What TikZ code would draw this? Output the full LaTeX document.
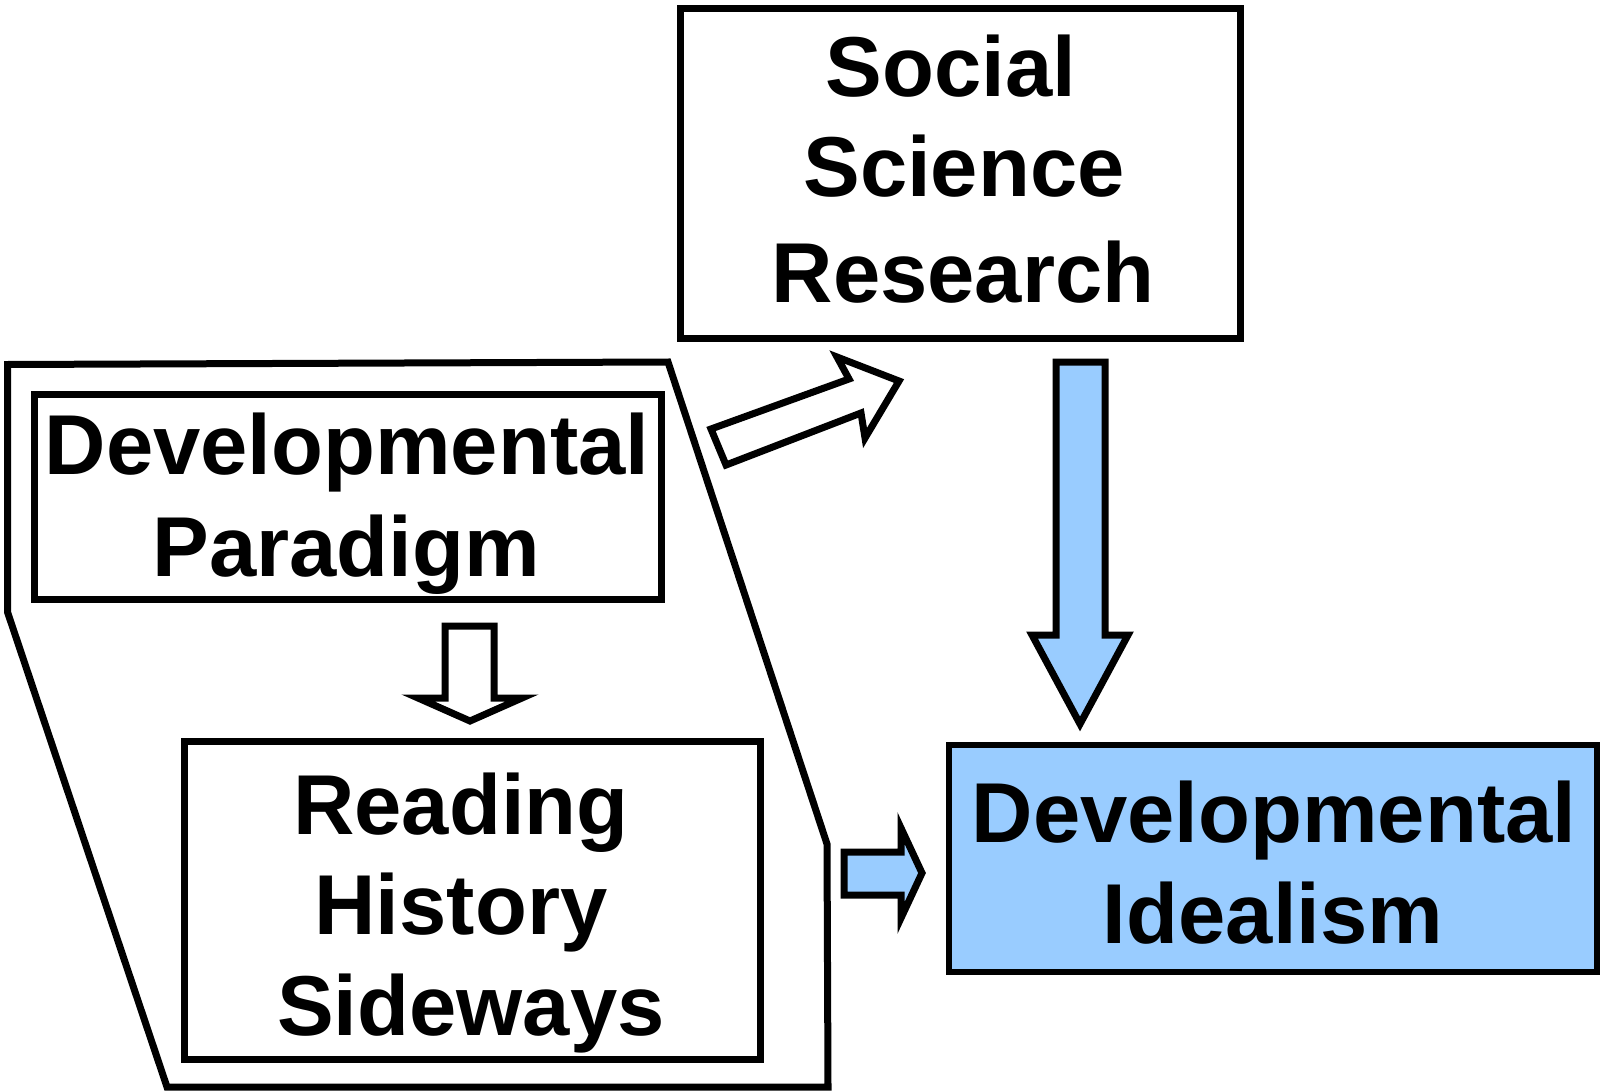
\documentclass[tikz,border=0pt]{standalone}
\usepackage{fontspec}
\setmainfont{Liberation Sans}
\definecolor{skyb}{HTML}{99CCFF}
\begin{document}
\begin{tikzpicture}[x=0.5pt,y=-0.5pt,
  box/.style={draw=black, line width=3.5pt, inner sep=0pt, rectangle},
  txt/.style={font=\fontsize{42.5}{50}\selectfont\bfseries, anchor=base, inner sep=0pt},
  outline/.style={draw=black, line width=3.5pt, line join=miter},
  harrow/.style={outline, fill=white},
  barrow/.style={outline, fill=skyb}]
\useasboundingbox[fill=white] (0,0) rectangle (1604,1091);

% group outline
\draw[outline] (7.5,364.5) -- (668,362) -- (827,844) -- (828,1087) -- (167,1087) -- (7.5,612) -- cycle;

% boxes
\node[box, minimum width=280pt, minimum height=164.5pt] (ssr) at (960,173.5) {};
\node[box, minimum width=313.5pt, minimum height=102.5pt] (dp) at (347.5,496.5) {};
\node[box, minimum width=288pt, minimum height=159pt] (rhs) at (472,900) {};
\node[box, fill=skyb, line width=3pt, minimum width=324.25pt, minimum height=113.75pt] (di) at (1272.75,858.25) {};

% texts
\node[txt] (ssr1) at (951,97) {Social};
\node[txt] (ssr2) at (964,197) {Science};
\node[txt] (ssr3) at (963,302) {Research};
\node[txt] (dp1) at (347,474) {Developmental};
\node[txt] (dp2) at (346,576) {Paradigm};
\node[txt] (rhs1) at (461,834) {Reading};
\node[txt] (rhs2) at (461,934) {History};
\node[txt] (rhs3) at (471,1035) {Sideways};
\node[txt] (di1) at (1274,842) {Developmental};
\node[txt] (di2) at (1273,943) {Idealism};

% block arrows
\draw[harrow] (711,429) -- (849,379) -- (837,357) -- (899,381) -- (865,438) -- (861,413) -- (726,465) -- cycle;
\draw[harrow] (445,626) -- (494,626) -- (494,698) -- (522,698) -- (470,721) -- (418,698) -- (445,698) -- cycle;
\draw[barrow] (1056,362) -- (1105,362) -- (1105,635) -- (1128,635) -- (1080,724) -- (1032,635) -- (1056,635) -- cycle;
\draw[barrow] (844,852) -- (901,852) -- (901,828) -- (922,873) -- (901,918) -- (901,895) -- (844,895) -- cycle;
\end{tikzpicture}
\end{document}
